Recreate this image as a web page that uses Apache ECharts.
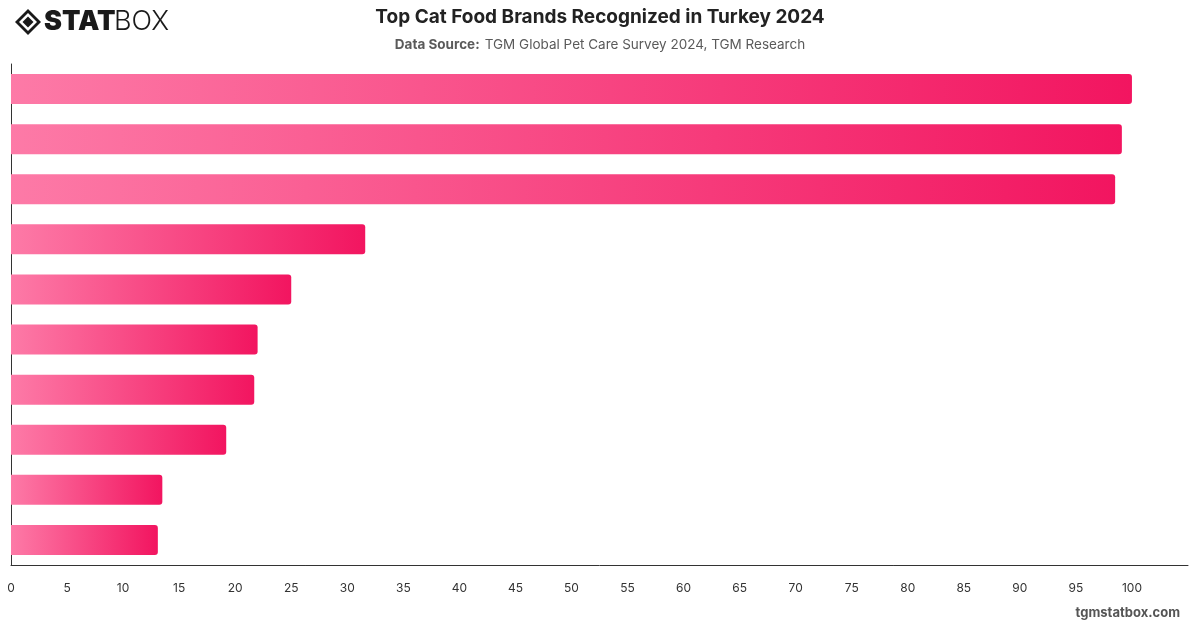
<!DOCTYPE html>
<html>
<head>
<meta charset="utf-8">
<script src="https://cdn.jsdelivr.net/npm/echarts@6/dist/echarts.min.js"></script>
<style>
html,body{margin:0;padding:0;background:#fff;}
#chart{width:1200px;height:628px;}
</style>
</head>
<body>
<div id="chart"></div>
<script>
// Brand names are not shown in the reference; ranks are used as categories.
const categories = ['1', '2', '3', '4', '5', '6', '7', '8', '9', '10'];
const values = [100, 99.1, 98.5, 31.6, 25.0, 22.0, 21.7, 19.2, 13.5, 13.1];
const titleText = 'Top Cat Food Brands Recognized in Turkey 2024';
const sourceLabel = 'Data Source:';
const sourceText = 'TGM Global Pet Care Survey 2024, TGM Research';
const watermark = 'tgmstatbox.com';

const chart = echarts.init(document.getElementById('chart'), null, {renderer: 'canvas'});
const font = 'Inter, "Liberation Sans", Arial, sans-serif';

chart.setOption({
  animation: false,
  backgroundColor: '#ffffff',
  textStyle: {fontFamily: font},
  title: [{
    text: titleText,
    left: 'center',
    top: 3,
    textStyle: {fontSize: 19, fontWeight: 'bold', color: '#222', fontFamily: font}
  }, {
    text: '{b|' + sourceLabel + '} {n|' + sourceText + '}',
    left: 'center',
    top: 31,
    textStyle: {
      fontFamily: font,
      fontWeight: 'normal',
      rich: {
        b: {fontSize: 13.5, fontWeight: 'bold', color: '#5a5a5a', fontFamily: font},
        n: {fontSize: 13.5, fontWeight: 'normal', color: '#5a5a5a', fontFamily: font}
      }
    }
  }],
  grid: {left: 11, right: 12, top: 64, bottom: 63, containLabel: false},
  xAxis: {
    type: 'value',
    min: 0,
    max: 105,
    interval: 5,
    axisLine: {show: true, lineStyle: {color: '#333', width: 1}},
    axisTick: {show: false},
    splitLine: {show: false},
    axisLabel: {color: '#333', fontSize: 12, margin: 17, showMaxLabel: false, fontFamily: font}
  },
  yAxis: {
    type: 'category',
    data: categories,
    inverse: true,
    axisLine: {show: true, lineStyle: {color: '#333', width: 1}},
    axisTick: {show: false},
    axisLabel: {show: false},
    splitLine: {show: false}
  },
  series: [{
    type: 'bar',
    data: values,
    barWidth: 30,
    itemStyle: {
      borderRadius: [0, 3, 3, 0],
      color: new echarts.graphic.LinearGradient(0, 0, 1, 0, [
        {offset: 0, color: '#fd7aa7'},
        {offset: 1, color: '#f21560'}
      ])
    }
  }],
  graphic: [
    {
      type: 'group',
      left: 15,
      top: 8,
      children: [
        {type: 'polygon', shape: {points: [[13, 0], [26, 13], [13, 26], [0, 13]]}, style: {fill: '#1a1a1a'}},
        {type: 'polygon', shape: {points: [[13, 4], [22, 13], [13, 22], [4, 13]]}, style: {fill: '#ffffff'}},
        {type: 'polygon', shape: {points: [[13, 7.5], [18.5, 13], [13, 18.5], [7.5, 13]]}, style: {fill: '#1a1a1a'}},
        {type: 'text', x: 29, y: -1, style: {text: 'STAT', font: '900 27px ' + font, fill: '#1a1a1a'}},
        {type: 'text', x: 99, y: -1, style: {text: 'BOX', font: '300 27px ' + font, fill: '#1a1a1a'}}
      ]
    },
    {
      type: 'text',
      right: 20,
      top: 607,
      style: {text: watermark, font: 'bold 13px ' + font, fill: '#555'}
    }
  ]
});
</script>
</body>
</html>
